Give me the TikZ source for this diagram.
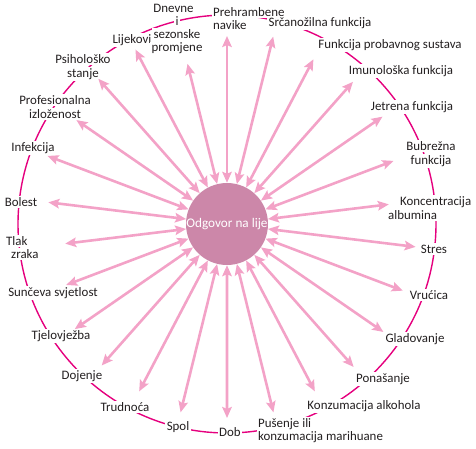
\documentclass[tikz,border=0pt]{standalone}
\usepackage{fontspec}
\setmainfont{Carlito}
\usetikzlibrary{arrows.meta}

\definecolor{ringmag}{HTML}{E5007E}
\definecolor{arrowpink}{HTML}{F3A2C7}
\definecolor{hubpink}{HTML}{CC87A9}
\definecolor{labeltext}{HTML}{231F20}

\newcommand{\wb}[1]{{\setlength{\fboxsep}{1.5pt}\colorbox{white}{#1}}}
\lineskiplimit=-10pt

\tikzset{
    lbl/.style={inner sep=0pt, align=center, text=labeltext,
        font=\fontsize{12.9}{13.3}\selectfont},
    hubnode/.style={circle, fill=hubpink, minimum size=82pt, inner sep=0pt,
        text=white, font=\fontsize{13.2}{13.3}\selectfont},
    arr/.style={draw=arrowpink, line width=2.6pt,
        {Stealth[length=11pt,width=9.5pt,inset=2pt]}-{Stealth[length=11pt,width=9.5pt,inset=2pt]}}
}

\begin{document}
\begin{tikzpicture}[x=1pt, y=1pt]
    \useasboundingbox (-227,-224) rectangle (249,224);

    % vanjski krug
    \draw[ringmag, line width=1.4pt] (0,0) circle (209pt);

    % oznake, od vrha u smjeru kazaljke
    \node[lbl, anchor=west, align=left] (prehrana) at (-15.5,205.5) {\wb{Prehrambene}\\\wb{navike}};
    \node[lbl] (srce) at (93,201) {\wb{Srčanožilna funkcija}};
    \node[lbl] (probava) at (163,179) {\wb{Funkcija probavnog sustava}};
    \node[lbl] (imuno) at (174,153) {\wb{Imunološka funkcija}};
    \node[lbl] (jetra) at (185,117) {\wb{Jetrena funkcija}};
    \node[lbl] (bubreg) at (204,70) {\wb{Bubrežna}\\\wb{funkcija}};
    \node[lbl, anchor=west, align=left] (albumin) at (159.5,16) {\hspace*{12pt}\wb{Koncentracija}\\\wb{albumina}};
    \node[lbl] (stres) at (207,-25) {\wb{Stres}};
    \node[lbl] (vrucica) at (202,-71) {\wb{Vrućica}};
    \node[lbl] (glad) at (188,-115) {\wb{Gladovanje}};
    \node[lbl] (ponasanje) at (156,-155) {\wb{Ponašanje}};
    \node[lbl] (alkohol) at (137,-182) {\wb{Konzumacija alkohola}};
    \node[lbl, anchor=west, align=left] (pusenje) at (29.5,-206.5) {\wb{Pušenje ili}\\\wb{konzumacija marihuane}};
    \node[lbl] (dob) at (3,-208) {\wb{Dob}};
    \node[lbl] (spol) at (-49,-203) {\wb{Spol}};
    \node[lbl] (trudnoca) at (-102,-183) {\wb{Trudnoća}};
    \node[lbl] (dojenje) at (-145,-152) {\wb{Dojenje}};
    \node[lbl] (tjelovjezba) at (-166,-112) {\wb{Tjelovježba}};
    \node[lbl] (sunce) at (-174,-69) {\wb{Sunčeva svjetlost}};
    \node[lbl, anchor=west, align=left] (tlak) at (-222.5,-23.5) {\wb{Tlak}\\\hspace*{5pt}\wb{zraka}};
    \node[lbl] (bolest) at (-206,22) {\wb{Bolest}};
    \node[lbl] (infekcija) at (-194,76) {\wb{Infekcija}};
    \node[lbl] (posao) at (-172,117) {\wb{Profesionalna}\\\wb{izloženost}};
    \node[lbl] (psiha) at (-144,157) {\wb{Psihološko}\\\wb{stanje}};
    \node[lbl] (lijekovi) at (-95,184) {\wb{Lijekovi}};
    \node[lbl] (dnevne) at (-50,195) {\wb{Dnevne}\hspace*{7pt}\\\wb{i}\hspace*{18pt}\\\wb{sezonske}\\\wb{promjene}};

    % sredina
    \node[hubnode] (hub) at (0,0) {Odgovor na lije};

    % strelice, 26 jednakih kutova
    \foreach \k/\r in {0/188, 1/193, 2/186, 3/190, 4/189, 5/178, 6/163, 7/190, 8/188,
        9/190, 10/191, 11/189, 12/194, 13/194, 14/194, 15/189, 16/189, 17/185,
        18/172, 19/163, 20/180, 21/192, 22/183, 23/194, 24/197, 25/165}
        \draw[arr] (hub) -- ({90-13.846*\k}:\r) coordinate (t\k);
\end{tikzpicture}
\end{document}
